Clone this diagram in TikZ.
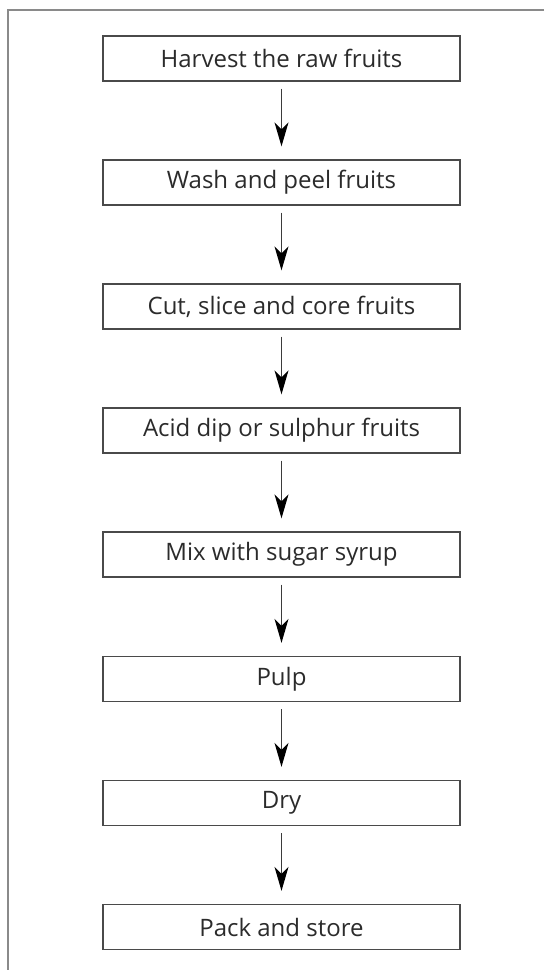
\documentclass[tikz,border=0pt]{standalone}
\usepackage{fontspec}
\setmainfont{Open Sans}
\usetikzlibrary{arrows.meta}
\definecolor{framegray}{HTML}{8A8A8A}
\definecolor{boxgray}{HTML}{4A4A4A}
\definecolor{txtgray}{HTML}{2B2B2B}
\begin{document}
\begin{tikzpicture}[x=1pt,y=-1pt,
  stepbox/.style={draw=boxgray,line width=1.3pt,minimum width=357pt,minimum height=45pt,inner sep=0pt,
    font=\fontsize{24}{26}\selectfont,text=txtgray},
  flow/.style={draw=boxgray!80!black,line width=1.3pt,shorten <=7pt,shorten >=13pt,
    -{Stealth[length=24pt,width=14pt,inset=7pt,color=black,fill=black]}}]
\useasboundingbox (0,0) rectangle (544,970);
\fill[white] (0,0) rectangle (544,970);
\draw[framegray,line width=2pt] (544,10) -- (8,10) -- (8,970);
\node[stepbox] (s1) at (281.5,58.5) {Harvest the raw fruits};
\node[stepbox] (s2) at (281.5,182.5) {Wash and peel fruits};
\node[stepbox] (s3) at (281.5,306.5) {Cut, slice and core fruits};
\node[stepbox] (s4) at (281.5,430.5) {Acid dip or sulphur fruits};
\node[stepbox] (s5) at (281.5,554.5) {Mix with sugar syrup};
\node[stepbox] (s6) at (281.5,679) {Pulp};
\node[stepbox] (s7) at (281.5,803) {Dry};
\node[stepbox] (s8) at (281.5,927) {Pack and store};
\foreach \a/\b in {s1/s2,s2/s3,s3/s4,s4/s5,s5/s6,s6/s7,s7/s8}
  \draw[flow] (\a) -- (\b);
\end{tikzpicture}
\end{document}
